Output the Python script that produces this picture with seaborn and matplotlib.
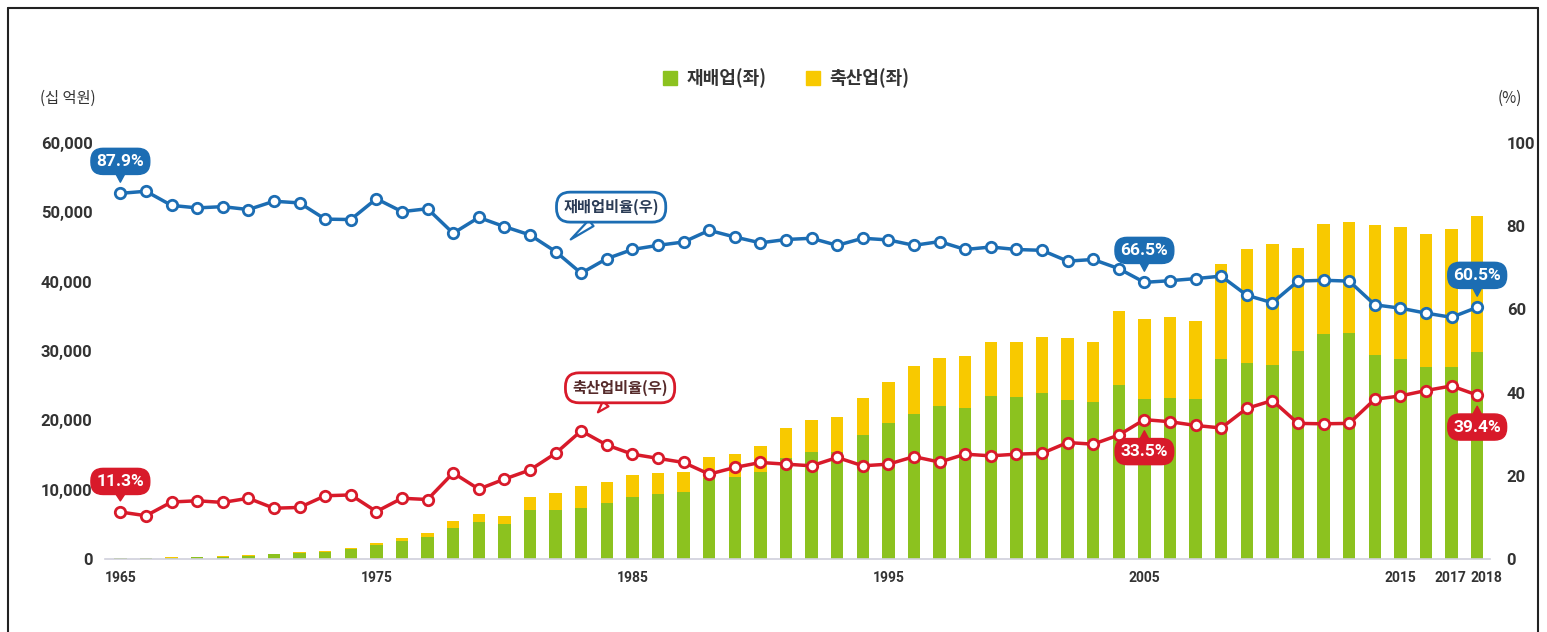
import numpy as np
import pandas as pd
import matplotlib
matplotlib.use("Agg")
import matplotlib.pyplot as plt
from matplotlib.patches import Patch
from matplotlib.lines import Line2D
from matplotlib.transforms import ScaledTranslation
import seaborn as sns

# ---------------- data ----------------
years = list(range(1965, 2019))
crop = [130, 158, 187, 227, 338, 502, 686, 853, 977, 1382,
        1985, 2580, 3188, 4400, 5400, 5000, 7050, 7070, 7300, 8030,
        9000, 9330, 9600, 11700, 11780, 12520, 14500, 15470, 15400, 17880,
        19660, 20910, 22060, 21820, 23500, 23400, 23890, 22930, 22690, 25090,
        23030, 23170, 23030, 28800, 28220, 27970, 29990, 32440, 32540, 29410,
        28800, 27730, 27730, 29900]
livestock = [17, 19, 30, 38, 54, 88, 98, 124, 182, 262,
             262, 453, 543, 1150, 1100, 1250, 1950, 2500, 3300, 3100,
             3050, 3050, 3000, 3050, 3320, 3780, 4350, 4580, 5030, 5290,
             5910, 6920, 6880, 7500, 7840, 7940, 8170, 8890, 8650, 10670,
             11570, 11680, 11340, 13740, 16440, 17410, 14910, 15870, 16100, 18750,
             19120, 19090, 19810, 19560]
crop_ratio = [87.9, 88.4, 85.0, 84.4, 84.7, 84.0, 86.0, 85.6, 81.7, 81.6,
              86.6, 83.5, 84.2, 78.3, 82.1, 79.9, 77.9, 73.9, 68.7, 72.2,
              74.4, 75.4, 76.2, 79.0, 77.4, 76.0, 76.8, 77.1, 75.4, 77.1,
              76.7, 75.4, 76.3, 74.4, 75.0, 74.4, 74.2, 71.6, 72.0, 69.8,
              66.5, 66.9, 67.4, 68.0, 63.4, 61.6, 66.8, 67.0, 66.8, 61.1,
              60.3, 59.1, 58.1, 60.5]
live_ratio = [11.3, 10.4, 13.7, 14.0, 13.6, 14.6, 12.2, 12.4, 15.2, 15.4,
              11.4, 14.6, 14.3, 20.7, 16.8, 19.2, 21.4, 25.4, 30.8, 27.4,
              25.2, 24.2, 23.2, 20.4, 22.0, 23.2, 22.8, 22.4, 24.4, 22.4,
              22.8, 24.6, 23.3, 25.2, 24.8, 25.2, 25.4, 28.0, 27.6, 29.8,
              33.5, 33.0, 32.1, 31.5, 36.2, 38.1, 32.6, 32.5, 32.6, 38.4,
              39.2, 40.5, 41.6, 39.4]
xtick_labels = [1965, 1975, 1985, 1995, 2005, 2015, 2017, 2018]
left_ticks = [0, 10000, 20000, 30000, 40000, 50000, 60000]
right_ticks = [0, 20, 40, 60, 80, 100]
callouts = [(1965, "crop", "87.9%"), (1965, "live", "11.3%"),
            (2005, "crop", "66.5%"), (2005, "live", "33.5%"),
            (2018, "crop", "60.5%"), (2018, "live", "39.4%")]

df = pd.DataFrame({"year": years, "crop": crop, "livestock": livestock,
                   "crop_ratio": crop_ratio, "live_ratio": live_ratio})
df["total"] = df["crop"] + df["livestock"]

# ---------------- style ----------------
sns.set_style("white")
plt.rcParams["font.family"] = ["Roboto", "DejaVu Sans", "Noto Sans CJK KR"]
KR = ["Noto Sans CJK KR", "DejaVu Sans"]
NUM = dict(family=["Roboto", "DejaVu Sans"], fontweight="bold")

GREEN = "#8cc21f"
YELLOW = "#f8c900"
BLUE = "#1c6db3"
RED = "#d81a2a"
TXT = "#333333"

W, H = 1547, 632
fig = plt.figure(figsize=(W / 100, H / 100), dpi=100)
ax = fig.add_axes([105 / W, 1 - 559 / H, (1490 - 105) / W, (559 - 143) / H])

sns.barplot(data=df, x="year", y="total", native_scale=True, color=YELLOW,
            saturation=1, width=0.48, errorbar=None, ax=ax, linewidth=0)
sns.barplot(data=df, x="year", y="crop", native_scale=True, color=GREEN,
            saturation=1, width=0.48, errorbar=None, ax=ax, linewidth=0)

ax.set_xlim(1964.4, 2018.5)
ax.set_ylim(0, 60000)
ax.set_yticks(left_ticks)
ax.set_yticklabels([f"{v:,}" for v in left_ticks], color=TXT, fontsize=12, **NUM)
ax.set_xticks(xtick_labels)
ax.set_xticklabels([str(v) for v in xtick_labels], color=TXT, fontsize=10, **NUM)
ax.tick_params(axis="y", length=0, pad=9)
ax.tick_params(axis="x", length=0, pad=9)
# nudge the last labels so 2017 / 2018 sit side by side as in the original
lbls = ax.get_xticklabels()
lbls[-1].set_transform(lbls[-1].get_transform() +
                       ScaledTranslation(9 / 100, 0, fig.dpi_scale_trans))
lbls[-2].set_transform(lbls[-2].get_transform() +
                       ScaledTranslation(-1 / 100, 0, fig.dpi_scale_trans))
ax.set_xlabel("")
ax.set_ylabel("")
for s in ["top", "left", "right"]:
    ax.spines[s].set_visible(False)
ax.spines["bottom"].set_color("#d0d0dc")
ax.spines["bottom"].set_linewidth(1.2)

ax2 = ax.twinx()
sns.lineplot(data=df, x="year", y="crop_ratio", ax=ax2, color=BLUE, linewidth=2.5,
             marker="o", markersize=7.5, markerfacecolor="white",
             markeredgecolor=BLUE, markeredgewidth=2)
sns.lineplot(data=df, x="year", y="live_ratio", ax=ax2, color=RED, linewidth=2.5,
             marker="o", markersize=7.5, markerfacecolor="white",
             markeredgecolor=RED, markeredgewidth=2)
ax2.set_ylim(0, 100)
ax2.set_yticks(right_ticks)
ax2.set_yticklabels([str(v) for v in right_ticks], color=TXT, fontsize=12, **NUM)
ax2.tick_params(axis="y", length=0, pad=12)
ax2.set_xlabel("")
ax2.set_ylabel("")
for s in ["top", "left", "right", "bottom"]:
    ax2.spines[s].set_visible(False)

# ---------------- callouts ----------------
ratio_of = {"crop": dict(zip(years, crop_ratio)), "live": dict(zip(years, live_ratio))}
for yr, kind, lab in callouts:
    col = BLUE if kind == "crop" else RED
    dy = 23 if kind == "crop" else -23
    if kind == "live" and yr == 1965:
        dy = 22
    ax2.annotate(lab, xy=(yr, ratio_of[kind][yr]), xytext=(0, dy),
                 textcoords="offset points", ha="center", va="center",
                 color="white", fontsize=12.5, **NUM, zorder=10,
                 bbox=dict(boxstyle="round,pad=0.32,rounding_size=0.7", fc=col, ec=col),
                 arrowprops=dict(arrowstyle="wedge,tail_width=0.45,shrink_factor=0.5",
                                 fc=col, ec=col, shrinkA=0, shrinkB=8))

ax2.annotate("재배업비율(우)", xy=(1982, crop_ratio[17]), xytext=(40, 32),
             textcoords="offset points", ha="center", va="center",
             color="#2a3b55", fontsize=11, family=KR, fontweight="bold", zorder=10,
             bbox=dict(boxstyle="round,pad=0.45,rounding_size=0.9", fc="white",
                       ec=BLUE, lw=2),
             arrowprops=dict(arrowstyle="wedge,tail_width=0.5,shrink_factor=0.5",
                             fc="white", ec=BLUE, lw=1.6, shrinkA=0, shrinkB=14))
ax2.annotate("축산업비율(우)", xy=(1983, live_ratio[18]), xytext=(28, 31),
             textcoords="offset points", ha="center", va="center",
             color="#552a2a", fontsize=11, family=KR, fontweight="bold", zorder=10,
             bbox=dict(boxstyle="round,pad=0.45,rounding_size=0.9", fc="white",
                       ec=RED, lw=2),
             arrowprops=dict(arrowstyle="wedge,tail_width=0.5,shrink_factor=0.5",
                             fc="white", ec=RED, lw=1.6, shrinkA=0, shrinkB=18))

# ---------------- units & legend ----------------
fig.text(40 / W, 1 - 98 / H, "(십 억원)", ha="left", va="center", fontsize=11,
         color=TXT, family=KR)
fig.text(1522 / W, 1 - 98 / H, "(%)", ha="right", va="center", fontsize=11,
         color=TXT, family=KR)

handles = [Patch(facecolor=GREEN, edgecolor=GREEN, label="재배업(좌)"),
           Patch(facecolor=YELLOW, edgecolor=YELLOW, label="축산업(좌)")]
fig.legend(handles=handles, loc="center", bbox_to_anchor=(786 / W, 1 - 78 / H),
           ncol=2, frameon=False, prop=dict(family=KR, size=13, weight="bold"),
           handlelength=0.8, handleheight=0.8, handletextpad=0.5, columnspacing=2.2,
           labelcolor=TXT)

# ---------------- frame ----------------
for (x0, y0, x1, y1) in [(8, 8, 8, H), (8, 8, 1538, 8), (1538, 8, 1538, H)]:
    fig.add_artist(Line2D([x0 / W, x1 / W], [1 - y0 / H, 1 - y1 / H],
                          color="#222222", lw=1.5, transform=fig.transFigure))

fig.savefig("out.png", dpi=100)
